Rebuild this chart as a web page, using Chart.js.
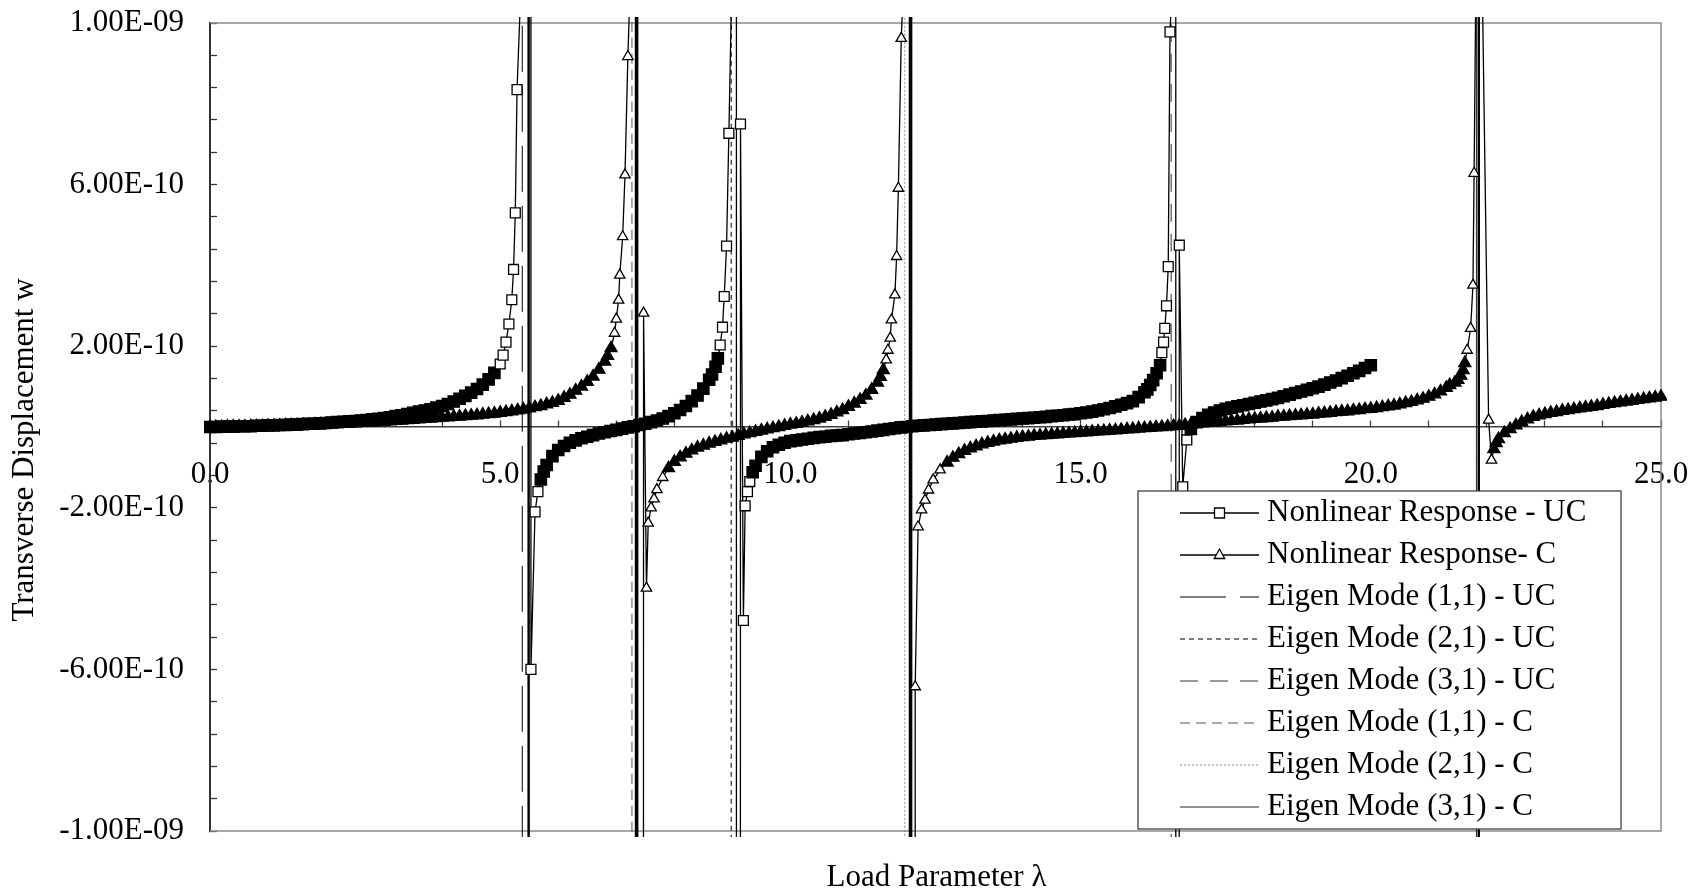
<!DOCTYPE html>
<html>
<head>
<meta charset="utf-8">
<title>Transverse displacement vs load parameter</title>
<script src="https://cdn.jsdelivr.net/npm/chart.js@4.4.1/dist/chart.umd.min.js"></script>
<style>
    html, body { margin: 0; padding: 0; background: #fff; overflow: hidden; }
    #wrap { width: 1694px; height: 893px; }
</style>
</head>
<body>
<div id="wrap"><canvas id="responseChart"></canvas></div>
<script>
/* ===== Data (w in units of 1e-10) ===== */

const xTickLabels = ['0.0', '5.0', '10.0', '15.0', '20.0', '25.0'];
const yTickLabels = ['-1.00E-09', '-6.00E-10', '-2.00E-10', '2.00E-10', '6.00E-10', '1.00E-09'];

const xTitle = 'Load Parameter \u03bb';
const yTitle = 'Transverse Displacement w';

const seriesNames = [
    'Nonlinear Response - UC',
    'Nonlinear Response- C',
    'Eigen Mode (1,1) - UC',
    'Eigen Mode (2,1) - UC',
    'Eigen Mode (3,1) - UC',
    'Eigen Mode (1,1) - C',
    'Eigen Mode (2,1) - C',
    'Eigen Mode (3,1) - C'
];

// nonlinear response, unconstrained (squares)
const ucBranch1 = [
    [0.0, 0.00], [0.1, 0.00], [0.2, 0.01], [0.3, 0.01], [0.4, 0.01], [0.5, 0.02], [0.6, 0.02], [0.7, 0.02], [0.8, 0.03], [0.9, 0.03],
    [1.0, 0.04], [1.1, 0.04], [1.2, 0.05], [1.3, 0.05], [1.4, 0.06], [1.5, 0.06], [1.6, 0.07], [1.7, 0.08], [1.8, 0.08], [1.9, 0.09],
    [2.0, 0.10], [2.1, 0.11], [2.2, 0.12], [2.3, 0.13], [2.4, 0.14], [2.5, 0.15], [2.6, 0.16], [2.7, 0.17], [2.8, 0.19], [2.9, 0.20],
    [3.0, 0.22], [3.1, 0.24], [3.2, 0.27], [3.3, 0.29], [3.4, 0.32], [3.5, 0.35], [3.6, 0.38], [3.7, 0.41], [3.8, 0.44], [3.9, 0.48],
    [4.0, 0.52], [4.1, 0.57], [4.2, 0.63], [4.3, 0.70], [4.4, 0.77], [4.5, 0.85], [4.6, 0.94], [4.7, 1.05], [4.8, 1.18], [4.9, 1.34],
    [5.0, 1.56], [5.05, 1.78], [5.1, 2.1], [5.15, 2.55], [5.2, 3.15], [5.23, 3.9], [5.26, 5.3], [5.29, 8.35]
];
const ucPole1 = [[5.36, 11], [5.47, 1000], [5.49, -1000], [5.51, 1000]];
const ucBranch2 = [
    [5.53, -6.0], [5.6, -2.1], [5.65, -1.6], [5.7, -1.3], [5.75, -1.1], [5.8, -0.94], [5.9, -0.72],
    [6.0, -0.57], [6.1, -0.47], [6.2, -0.39], [6.3, -0.33], [6.4, -0.28], [6.5, -0.24], [6.6, -0.20], [6.7, -0.16], [6.8, -0.13], [6.9, -0.10],
    [7.0, -0.07], [7.1, -0.04], [7.2, -0.01], [7.3, 0.02], [7.4, 0.05], [7.5, 0.08], [7.6, 0.12], [7.7, 0.16], [7.8, 0.21], [7.9, 0.27],
    [8.0, 0.34], [8.1, 0.42], [8.2, 0.52], [8.3, 0.64], [8.4, 0.78], [8.5, 0.95], [8.6, 1.17], [8.65, 1.3], [8.71, 1.49],
    [8.75, 1.7], [8.79, 2.03], [8.83, 2.47], [8.86, 3.23], [8.9, 4.48], [8.94, 7.27]
];
const ucPole2 = [[8.99, 11], [9.06, 1000], [9.08, -1000]];
const ucBranch3 = [
    [9.14, 7.5], [9.19, -4.79], [9.22, -1.95], [9.26, -1.6], [9.3, -1.35], [9.35, -1.12], [9.4, -0.96], [9.5, -0.74], [9.6, -0.60],
    [9.7, -0.50], [9.8, -0.44], [9.9, -0.39], [10.0, -0.35], [10.1, -0.33], [10.2, -0.31], [10.3, -0.29], [10.4, -0.27], [10.5, -0.25],
    [10.6, -0.24], [10.7, -0.22], [10.8, -0.21], [10.9, -0.20], [11.0, -0.18], [11.1, -0.16], [11.2, -0.15], [11.3, -0.13], [11.4, -0.11],
    [11.5, -0.09], [11.6, -0.07], [11.7, -0.05], [11.8, -0.03], [11.9, -0.01], [12.0, 0.00], [12.1, 0.02], [12.2, 0.03], [12.3, 0.04],
    [12.4, 0.05], [12.5, 0.06], [12.6, 0.07], [12.7, 0.08], [12.8, 0.09], [12.9, 0.10], [13.0, 0.11], [13.1, 0.12], [13.2, 0.13],
    [13.3, 0.14], [13.4, 0.15], [13.5, 0.16], [13.6, 0.17], [13.7, 0.18], [13.8, 0.19], [13.9, 0.20], [14.0, 0.21], [14.1, 0.22],
    [14.2, 0.23], [14.3, 0.24], [14.4, 0.25], [14.5, 0.27], [14.6, 0.28], [14.7, 0.29], [14.8, 0.31], [14.9, 0.32], [15.0, 0.34],
    [15.1, 0.36], [15.2, 0.38], [15.3, 0.41], [15.4, 0.44], [15.5, 0.47], [15.6, 0.51], [15.7, 0.55], [15.8, 0.59], [15.9, 0.64],
    [16.0, 0.74], [16.1, 0.86], [16.15, 0.93], [16.2, 1.04], [16.25, 1.16], [16.31, 1.33], [16.37, 1.53], [16.4, 1.84], [16.43, 2.1],
    [16.45, 2.44], [16.48, 3.0], [16.51, 3.97], [16.54, 9.78]
];
const ucPole3 = [[16.58, 11], [16.63, 1000], [16.65, -1000]];
const ucBranch4 = [
    [16.70, 4.5], [16.76, -1.48], [16.83, -0.32], [16.9, -0.05], [17.0, 0.12], [17.1, 0.22], [17.2, 0.30], [17.3, 0.36], [17.4, 0.41],
    [17.5, 0.45], [17.6, 0.48], [17.7, 0.51], [17.8, 0.54], [17.9, 0.57], [18.0, 0.60], [18.1, 0.63], [18.2, 0.66], [18.3, 0.69],
    [18.4, 0.72], [18.5, 0.76], [18.6, 0.80], [18.7, 0.84], [18.8, 0.88], [18.9, 0.92], [19.0, 0.96], [19.1, 1.00], [19.2, 1.05],
    [19.3, 1.10], [19.4, 1.15], [19.5, 1.21], [19.6, 1.27], [19.7, 1.33], [19.8, 1.39], [19.9, 1.46], [20.0, 1.53]
];

// nonlinear response, constrained (triangles)
const cBranch1 = [
    [0.0, 0.00], [0.1, 0.00], [0.2, 0.00], [0.3, 0.01], [0.4, 0.01], [0.5, 0.01], [0.6, 0.01], [0.7, 0.02], [0.8, 0.02], [0.9, 0.02],
    [1.0, 0.03], [1.1, 0.03], [1.2, 0.03], [1.3, 0.04], [1.4, 0.04], [1.5, 0.04], [1.6, 0.05], [1.7, 0.05], [1.8, 0.06], [1.9, 0.06],
    [2.0, 0.07], [2.1, 0.07], [2.2, 0.08], [2.3, 0.08], [2.4, 0.09], [2.5, 0.09], [2.6, 0.10], [2.7, 0.11], [2.8, 0.11], [2.9, 0.12],
    [3.0, 0.13], [3.1, 0.14], [3.2, 0.15], [3.3, 0.16], [3.4, 0.17], [3.5, 0.18], [3.6, 0.19], [3.7, 0.20], [3.8, 0.21], [3.9, 0.22],
    [4.0, 0.23], [4.1, 0.24], [4.2, 0.25], [4.3, 0.26], [4.4, 0.27], [4.5, 0.28], [4.6, 0.29], [4.7, 0.31], [4.8, 0.32], [4.9, 0.33],
    [5.0, 0.35], [5.1, 0.37], [5.2, 0.39], [5.3, 0.41], [5.4, 0.43], [5.5, 0.46], [5.6, 0.49], [5.7, 0.52], [5.8, 0.56], [5.9, 0.60],
    [6.0, 0.65], [6.1, 0.72], [6.2, 0.80], [6.3, 0.90], [6.4, 1.00], [6.5, 1.12], [6.6, 1.25], [6.7, 1.42], [6.8, 1.62], [6.85, 1.76],
    [6.91, 1.95], [6.97, 2.32], [7.0, 2.67], [7.04, 3.14], [7.06, 3.76], [7.11, 4.71], [7.15, 6.24], [7.2, 9.17]
];
const cPole1 = [[7.24, 11], [7.32, 1000], [7.34, -1000], [7.36, 1000], [7.38, -1000]];
const cBranch2 = [
    [7.47, 2.82], [7.52, -3.99], [7.55, -2.38], [7.6, -2.0], [7.65, -1.78], [7.7, -1.55], [7.8, -1.25], [7.9, -1.02],
    [8.0, -0.86], [8.1, -0.75], [8.2, -0.66], [8.3, -0.58], [8.4, -0.51], [8.5, -0.46], [8.6, -0.41], [8.7, -0.37], [8.8, -0.33],
    [8.9, -0.29], [9.0, -0.26], [9.1, -0.22], [9.2, -0.18], [9.3, -0.15], [9.4, -0.12], [9.5, -0.09], [9.6, -0.06], [9.7, -0.03],
    [9.8, 0.00], [9.9, 0.03], [10.0, 0.06], [10.1, 0.08], [10.2, 0.11], [10.3, 0.14], [10.4, 0.17], [10.5, 0.21], [10.6, 0.25],
    [10.7, 0.30], [10.8, 0.36], [10.9, 0.42], [11.0, 0.50], [11.1, 0.58], [11.2, 0.67], [11.3, 0.78], [11.4, 0.92], [11.5, 1.10],
    [11.55, 1.24], [11.6, 1.41], [11.65, 1.66], [11.68, 1.9], [11.72, 2.2], [11.74, 2.65], [11.8, 3.27], [11.83, 4.22], [11.86, 5.91],
    [11.91, 9.62]
];
const cPole2 = [[11.95, 11], [12.04, 1000], [12.06, -1000], [12.08, 1000], [12.10, -1000]];
const cBranch3 = [
    [12.15, -6.43], [12.2, -2.47], [12.26, -2.05], [12.32, -1.81], [12.38, -1.56], [12.46, -1.31], [12.58, -1.06], [12.7, -0.88],
    [12.8, -0.76], [12.9, -0.67], [13.0, -0.59], [13.1, -0.53], [13.2, -0.48], [13.3, -0.43], [13.4, -0.39], [13.5, -0.36],
    [13.6, -0.33], [13.7, -0.31], [13.8, -0.29], [13.9, -0.27], [14.0, -0.25], [14.1, -0.24], [14.2, -0.22], [14.3, -0.21],
    [14.4, -0.20], [14.5, -0.19], [14.6, -0.18], [14.7, -0.17], [14.8, -0.16], [14.9, -0.15], [15.0, -0.14], [15.1, -0.13],
    [15.2, -0.12], [15.3, -0.11], [15.4, -0.10], [15.5, -0.09], [15.6, -0.08], [15.7, -0.07], [15.8, -0.06], [15.9, -0.05],
    [16.0, -0.04], [16.1, -0.03], [16.2, -0.02], [16.3, -0.01], [16.4, 0.00], [16.5, 0.01], [16.6, 0.02], [16.7, 0.03],
    [16.8, 0.05], [16.9, 0.06], [17.0, 0.08], [17.1, 0.09], [17.2, 0.10], [17.3, 0.11], [17.4, 0.13], [17.5, 0.14],
    [17.6, 0.15], [17.7, 0.16], [17.8, 0.18], [17.9, 0.19], [18.0, 0.20], [18.1, 0.21], [18.2, 0.22], [18.3, 0.23],
    [18.4, 0.25], [18.5, 0.26], [18.6, 0.27], [18.7, 0.28], [18.8, 0.29], [18.9, 0.30], [19.0, 0.31], [19.1, 0.33],
    [19.2, 0.34], [19.3, 0.35], [19.4, 0.37], [19.5, 0.38], [19.6, 0.39], [19.7, 0.41], [19.8, 0.42], [19.9, 0.44],
    [20.0, 0.45], [20.1, 0.47], [20.2, 0.49], [20.3, 0.51], [20.4, 0.53], [20.5, 0.56], [20.6, 0.59], [20.7, 0.62],
    [20.8, 0.66], [20.9, 0.70], [21.0, 0.75], [21.1, 0.81], [21.2, 0.88], [21.3, 0.97], [21.36, 1.04], [21.45, 1.10],
    [21.5, 1.17], [21.55, 1.27], [21.59, 1.41], [21.62, 1.58], [21.66, 1.9], [21.72, 2.44], [21.76, 3.51], [21.78, 6.28]
];
const cPole3 = [[21.81, 11], [21.84, 1000], [21.86, -1000], [21.88, 1000], [21.92, 11]];
const cBranch4 = [
    [22.03, 0.17], [22.08, -0.82], [22.12, -0.55], [22.16, -0.40], [22.2, -0.30], [22.3, -0.15], [22.4, -0.05], [22.5, 0.04],
    [22.6, 0.12], [22.7, 0.19], [22.8, 0.25], [22.9, 0.29], [23.0, 0.32], [23.1, 0.35], [23.2, 0.37], [23.3, 0.40], [23.4, 0.42],
    [23.5, 0.44], [23.6, 0.46], [23.7, 0.48], [23.8, 0.50], [23.9, 0.52], [24.0, 0.55], [24.1, 0.57], [24.2, 0.59], [24.3, 0.61],
    [24.4, 0.63], [24.5, 0.65], [24.6, 0.67], [24.7, 0.69], [24.8, 0.71], [24.9, 0.73], [25.0, 0.75]
];

// critical loads: (1,1), (2,1), (3,1) UC then (1,1), (2,1), (3,1) C
const eigenLoads = [5.38, 8.98, 16.56, 7.27, 11.97, 21.82];
const eigenSpan = [-12, 12];

/* ===== Styles ===== */

const serif = "'Liberation Serif', 'Times New Roman', serif";
const axisFont = { family: serif, size: 31 };
const overflow = { left: 6, top: 6, right: 6, bottom: 6 };

const eigenStyles = [
    { color: '#000', dash: [46, 14] },
    { color: '#000', dash: [5, 4] },
    { color: '#333', dash: [18, 12] },
    { color: '#555', dash: [10, 6] },
    { color: '#8a8a8a', dash: [2, 2] },
    { color: '#222', dash: [] }
];

function toPoints(...parts) {
    return [].concat(...parts).map(p => ({ x: p[0], y: p[1] }));
}

// pixel distance from a marker to its nearest neighbour
function markerGap(ctx) {
    const data = ctx.dataset.data;
    const i = ctx.dataIndex;
    const xs = ctx.chart.scales.x;
    const ys = ctx.chart.scales.y;
    if (i === undefined || !xs || !ys) return Infinity;

    const px = p => [xs.getPixelForValue(p.x), ys.getPixelForValue(p.y)];
    const [x0, y0] = px(data[i]);
    let gap = Infinity;

    [i - 1, i + 1].forEach(j => {
        if (j < 0 || j >= data.length) return;
        const [x1, y1] = px(data[j]);
        gap = Math.min(gap, Math.hypot(x1 - x0, y1 - y0));
    });
    return gap;
}

// tightly packed markers merge into a solid band, as in the original plot
const markerFill = ctx => (markerGap(ctx) < 9 ? '#000' : '#fff');
const markerSize = base => ctx => (markerGap(ctx) < 9 ? base + 1 : base);

const responseUC = toPoints(ucBranch1, ucPole1, ucBranch2, ucPole2, ucBranch3, ucPole3, ucBranch4);
const responseC = toPoints(cBranch1, cPole1, cBranch2, cPole2, cBranch3, cPole3, cBranch4);

const datasets = [
    {
        label: seriesNames[0],
        data: responseUC,
        showLine: true,
        borderColor: '#000',
        borderWidth: 1.3,
        pointStyle: 'rect',
        pointRadius: markerSize(7),
        pointBorderWidth: 1.3,
        pointBorderColor: '#000',
        pointBackgroundColor: markerFill,
        clip: overflow
    },
    {
        label: seriesNames[1],
        data: responseC,
        showLine: true,
        borderColor: '#000',
        borderWidth: 1.3,
        pointStyle: 'triangle',
        pointRadius: markerSize(6),
        pointBorderWidth: 1.3,
        pointBorderColor: '#000',
        pointBackgroundColor: markerFill,
        clip: overflow
    }
];

eigenLoads.forEach((load, i) => {
    datasets.push({
        label: seriesNames[i + 2],
        data: eigenSpan.map(w => ({ x: load, y: w })),
        showLine: true,
        borderColor: eigenStyles[i].color,
        borderDash: eigenStyles[i].dash,
        borderWidth: 1,
        pointRadius: 0,
        clip: overflow
    });
});

/* ===== Plugins ===== */

const plotFrame = {
    id: 'plotFrame',
    beforeDatasetsDraw(chart) {
        const { ctx, chartArea: a } = chart;
        ctx.save();
        ctx.strokeStyle = '#8c8c8c';
        ctx.lineWidth = 1.5;
        ctx.beginPath();
        ctx.moveTo(a.left, a.top);
        ctx.lineTo(a.right, a.top);
        ctx.lineTo(a.right, a.bottom);
        ctx.lineTo(a.left, a.bottom);
        ctx.stroke();
        ctx.restore();
    }
};

const axisTitles = {
    id: 'axisTitles',
    afterDraw(chart) {
        const { ctx, chartArea: a } = chart;
        ctx.save();
        ctx.fillStyle = '#000';
        ctx.font = '31px ' + serif;
        ctx.textAlign = 'center';
        ctx.textBaseline = 'middle';
        ctx.fillText(xTitle, (a.left + a.right) / 2 + 1, a.bottom + 47);
        ctx.translate(25, (a.top + a.bottom) / 2 + 23);
        ctx.rotate(-Math.PI / 2);
        ctx.fillText(yTitle, 0, 0);
        ctx.restore();
    }
};

function legendMarker(ctx, style, x, y) {
    ctx.beginPath();
    if (style === 'rect') {
        ctx.rect(x - 5, y - 5, 10, 10);
    } else {
        ctx.moveTo(x, y - 6);
        ctx.lineTo(x + 5.2, y + 3.5);
        ctx.lineTo(x - 5.2, y + 3.5);
        ctx.closePath();
    }
    ctx.fillStyle = '#fff';
    ctx.fill();
    ctx.strokeStyle = '#000';
    ctx.lineWidth = 1.3;
    ctx.stroke();
}

const boxLegend = {
    id: 'boxLegend',
    afterDraw(chart) {
        const { ctx, chartArea: a } = chart;
        const left = a.right - 523;
        const right = a.right - 40;
        const top = a.top + 468;
        const bottom = a.bottom - 2;

        ctx.save();
        ctx.fillStyle = '#fff';
        ctx.fillRect(left, top, right - left, bottom - top);
        ctx.strokeStyle = '#404040';
        ctx.lineWidth = 1.3;
        ctx.strokeRect(left, top, right - left, bottom - top);

        ctx.font = '31px ' + serif;
        ctx.textAlign = 'left';
        ctx.textBaseline = 'middle';

        chart.data.datasets.forEach((ds, i) => {
            const y = top + 22 + i * 42;
            const x0 = left + 42;
            const x1 = left + 121;

            ctx.setLineDash(ds.borderDash || []);
            ctx.strokeStyle = ds.borderColor;
            ctx.lineWidth = i < 2 ? 1.6 : 1;
            ctx.beginPath();
            ctx.moveTo(x0, y);
            ctx.lineTo(x1, y);
            ctx.stroke();
            ctx.setLineDash([]);

            if (i < 2) {
                legendMarker(ctx, ds.pointStyle, (x0 + x1) / 2, y);
            }

            ctx.fillStyle = '#000';
            ctx.fillText(ds.label, left + 129, y);
        });
        ctx.restore();
    }
};

/* ===== Chart ===== */

const responseCtx = document.getElementById('responseChart');

new Chart(responseCtx, {
    type: 'scatter',

    data: { datasets: datasets },

    plugins: [plotFrame, axisTitles, boxLegend],

    options: {
        responsive: true,
        maintainAspectRatio: false,
        animation: false,
        events: [],

        layout: {
            padding: { top: 23, right: 33, bottom: 62, left: 0 }
        },

        plugins: {
            legend: { display: false },
            tooltip: { enabled: false }
        },

        scales: {
            x: {
                type: 'linear',
                position: { y: 0 },
                min: 0,
                max: 25,
                border: { color: '#404040', width: 1.5 },
                grid: {
                    drawOnChartArea: false,
                    drawTicks: true,
                    tickLength: -7,
                    tickColor: '#404040',
                    tickWidth: 1.3
                },
                ticks: {
                    stepSize: 1,
                    autoSkip: false,
                    maxRotation: 0,
                    padding: 36,
                    color: '#000',
                    font: axisFont,
                    callback: (value, index) => (index % 5 === 0 ? xTickLabels[index / 5] : '')
                },
                afterFit: (scale) => {
                    scale.paddingLeft = 0;
                    scale.paddingRight = 0;
                }
            },
            y: {
                type: 'linear',
                position: 'left',
                min: -10,
                max: 10,
                border: { color: '#333', width: 2 },
                grid: {
                    drawOnChartArea: false,
                    drawTicks: true,
                    tickLength: -7,
                    tickColor: '#333',
                    tickWidth: 1.3
                },
                ticks: {
                    stepSize: 0.8,
                    autoSkip: false,
                    padding: 33,
                    color: '#000',
                    font: axisFont,
                    callback: (value, index) => (index % 5 === 0 ? yTickLabels[index / 5] : '')
                },
                afterFit: (scale) => {
                    scale.width = 210;
                    scale.paddingTop = 0;
                    scale.paddingBottom = 0;
                }
            }
        }
    }
});
</script>
</body>
</html>
